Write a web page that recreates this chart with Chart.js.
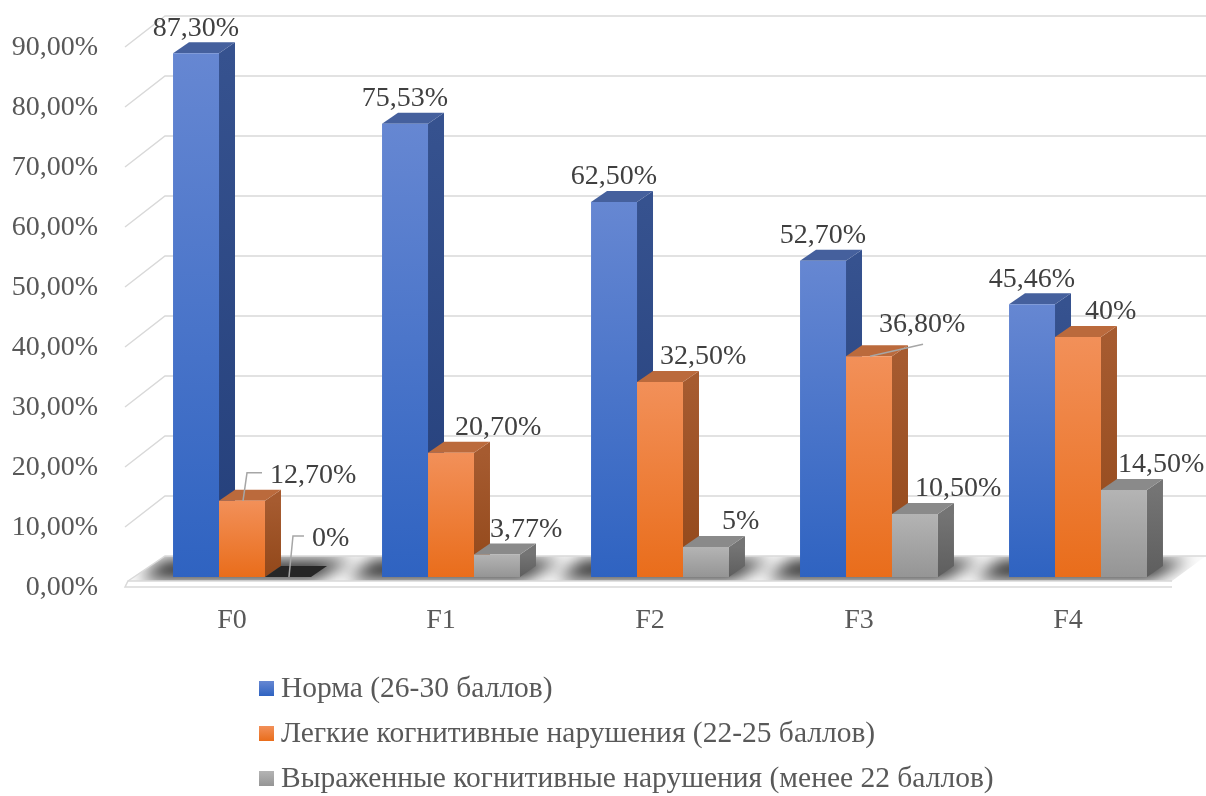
<!DOCTYPE html>
<html lang="ru">
  <head>
    <meta charset="UTF-8" />
    <title>Когнитивные нарушения по стадиям фиброза</title>
    <script src="https://cdn.jsdelivr.net/npm/chart.js"></script>
    <style>
      body {
        margin: 0;
        padding: 0;
        background: #fff;
      }
      #chart {
        display: block;
      }
    </style>
  </head>
  <body>
    <canvas id="chart" width="1206" height="796"></canvas>
    <script>
      // stages
      const categories = ["F0", "F1", "F2", "F3", "F4"];
      // share of patients, %
      const normaValues = [87.3, 75.53, 62.5, 52.7, 45.46];
      const mildValues = [12.7, 20.7, 32.5, 36.8, 40];
      const severeValues = [0, 3.77, 5, 10.5, 14.5];
      const seriesNames = [
        "Норма (26-30 баллов)",
        "Легкие когнитивные нарушения (22-25 баллов)",
        "Выраженные когнитивные нарушения (менее 22 баллов)",
      ];
      const yTicks = [0, 10, 20, 30, 40, 50, 60, 70, 80, 90];

      const FONT = '28px "Liberation Serif", "Times New Roman", serif';
      const LEGEND_FONT = '29.5px "Liberation Serif", "Times New Roman", serif';
      const DX = 16; // bar depth, px
      const DY = 11;

      // colours per series: front top/bottom, side top/bottom, top face
      const palette = [
        { f: ["#6687d2", "#2f63c1"], s: ["#36528f", "#243f7a"], t: "#45609d" },
        { f: ["#f29059", "#e96d1b"], s: ["#a65b30", "#92481a"], t: "#bb6a3c" },
        { f: ["#b4b4b4", "#959595"], s: ["#747474", "#5e5e5e"], t: "#8a8a8a" },
      ];

      // label nudges (dx, dy) so the labels don't sit on each other
      const labelShift = [
        [[0, 0], [0, 0], [0, 0], [0, 0], [0, 0]],
        [[26, 0], [2, 0], [-2, 0], [8, -7], [5, 0]],
        [[22, -13], [-9, 0], [14, 0], [-2, 0], [-8, 0]],
      ];

      function fmtValue(v) {
        if (Number.isInteger(v)) return v + "%";
        return v.toFixed(2).replace(".", ",") + "%";
      }
      function fmtTick(v) {
        return v.toFixed(2).replace(".", ",") + "%";
      }

      function frontFill(i) {
        return function (ctx) {
          const chart = ctx.chart;
          if (!chart.chartArea || ctx.raw === undefined) return palette[i].f[1];
          const y = chart.scales.y;
          const top = y.getPixelForValue(ctx.raw);
          const base = y.getPixelForValue(0);
          if (base - top < 1) return palette[i].f[1];
          const g = chart.ctx.createLinearGradient(0, top, 0, base);
          g.addColorStop(0, palette[i].f[0]);
          g.addColorStop(1, palette[i].f[1]);
          return g;
        };
      }

      function poly(ctx, pts) {
        ctx.beginPath();
        ctx.moveTo(pts[0][0], pts[0][1]);
        for (let k = 1; k < pts.length; k++) ctx.lineTo(pts[k][0], pts[k][1]);
        ctx.closePath();
      }

      function line(ctx, pts) {
        ctx.beginPath();
        ctx.moveTo(pts[0][0], pts[0][1]);
        for (let k = 1; k < pts.length; k++) ctx.lineTo(pts[k][0], pts[k][1]);
        ctx.stroke();
      }

      // floor, back wall grid, shadows and the side/top faces of the bars
      const scenePlugin = {
        id: "scene",
        beforeDatasetsDraw(chart) {
          const ctx = chart.ctx;
          const y = chart.scales.y;
          const base = y.getPixelForValue(0);
          const right = 1206;

          ctx.save();
          // wall grid
          ctx.strokeStyle = "#d9d9d9";
          ctx.lineWidth = 1.5;
          yTicks.forEach((v) => {
            if (v === 0) return;
            const py = y.getPixelForValue(v);
            line(ctx, [
              [125, py + 10],
              [165, py - 21],
              [right, py - 21],
            ]);
          });

          // floor slab
          const floorTop = [
            [128, base + 4],
            [1172, base + 4],
            [right, base - 21],
            [165, base - 21],
          ];
          ctx.fillStyle = "#fbfbfb";
          poly(ctx, floorTop);
          ctx.fill();

          // soft shadows under each group
          ctx.save();
          poly(ctx, floorTop);
          ctx.clip();
          const metas = [0, 1, 2].map((i) => chart.getDatasetMeta(i));
          categories.forEach((c, j) => {
            const first = metas[0].data[j];
            const last = metas[2].data[j];
            const x0 = first.x - first.width / 2;
            const x1 = last.x + last.width / 2;
            ctx.filter = "blur(8px)";
            ctx.fillStyle = "rgba(0,0,0,0.85)";
            poly(ctx, [
              [x0 - 34, base + 2],
              [x1 + 4, base + 2],
              [x1 + DX + 26, base - DY - 6],
              [x0 - 8, base - DY - 6],
            ]);
            ctx.fill();
          });
          ctx.filter = "none";
          ctx.restore();

          ctx.fillStyle = "#ffffff";
          poly(ctx, [
            [125, base + 10],
            [1172, base + 10],
            [1172, base + 4],
            [128, base + 4],
          ]);
          ctx.fill();
          line(ctx, [
            [1172, base + 4],
            [128, base + 4],
            [125, base + 10],
            [1172, base + 10],
          ]);
          line(ctx, [
            [128, base + 4],
            [165, base - 21],
            [right, base - 21],
          ]);

          // side and top faces, left to right so the neighbours overlap correctly
          categories.forEach((c, j) => {
            metas.forEach((meta, i) => {
              const bar = meta.data[j];
              const l = bar.x - bar.width / 2;
              const r = bar.x + bar.width / 2;
              const t = bar.y;
              const b = bar.base;
              const p = palette[i];
              if (b - t > 0.5) {
                const g = ctx.createLinearGradient(0, t, 0, b);
                g.addColorStop(0, p.s[0]);
                g.addColorStop(1, p.s[1]);
                ctx.fillStyle = g;
                poly(ctx, [
                  [r, t],
                  [r + DX, t - DY],
                  [r + DX, b - DY],
                  [r, b],
                ]);
                ctx.fill();
                ctx.fillStyle = p.t;
              } else {
                ctx.fillStyle = "#262626";
              }
              poly(ctx, [
                [l, t],
                [l + DX, t - DY],
                [r + DX, t - DY],
                [r, t],
              ]);
              ctx.fill();
            });
          });
          ctx.restore();
        },

        afterDraw(chart) {
          const ctx = chart.ctx;
          const y = chart.scales.y;
          const x = chart.scales.x;
          ctx.save();
          ctx.font = FONT;
          ctx.textBaseline = "middle";

          // value axis labels on the front edge of the floor
          ctx.fillStyle = "#595959";
          ctx.textAlign = "right";
          yTicks.forEach((v) => {
            ctx.fillText(fmtTick(v), 98, y.getPixelForValue(v) + 11);
          });

          // stage labels
          ctx.textAlign = "center";
          chart.data.labels.forEach((lab, j) => {
            ctx.fillText(lab, x.getPixelForValue(j) - 10, 621);
          });

          // data labels
          ctx.fillStyle = "#404040";
          ctx.strokeStyle = "#a6a6a6";
          ctx.lineWidth = 1.5;
          chart.data.datasets.forEach((ds, i) => {
            const meta = chart.getDatasetMeta(i);
            ds.data.forEach((v, j) => {
              const bar = meta.data[j];
              const txt = fmtValue(v);
              const [sx, sy] = labelShift[i][j];
              const ly = bar.y - 26 + sy;
              let lx;
              if (i === 0) {
                ctx.textAlign = "center";
                lx = bar.x + sx;
              } else {
                ctx.textAlign = "left";
                lx = bar.x + 2 + sx;
              }
              ctx.fillText(txt, lx, ly + 1);

              // leader lines for the labels moved away from their bar
              if ((i === 1 && j === 0) || (i === 2 && j === 0)) {
                line(ctx, [
                  [bar.x + 1, bar.y],
                  [bar.x + 5, ly - 2],
                  [lx - 8, ly - 2],
                ]);
              } else if (i === 1 && j === 3) {
                line(ctx, [
                  [bar.x + 1, bar.y],
                  [lx + 44, ly + 21],
                ]);
              }
            });
          });

          // legend
          ctx.textAlign = "left";
          ctx.font = LEGEND_FONT;
          chart.data.datasets.forEach((ds, i) => {
            const cy = 688 + i * 45;
            const g = ctx.createLinearGradient(0, cy - 7, 0, cy + 8);
            g.addColorStop(0, palette[i].f[0]);
            g.addColorStop(1, palette[i].f[1]);
            ctx.fillStyle = g;
            ctx.fillRect(259, cy - 7, 15, 15);
            ctx.fillStyle = "#595959";
            ctx.fillText(ds.label, 281, cy + 1);
          });
          ctx.restore();
        },
      };

      const seriesData = [normaValues, mildValues, severeValues];

      new Chart(document.getElementById("chart"), {
        type: "bar",
        data: {
          labels: categories,
          datasets: seriesData.map((vals, i) => ({
            label: seriesNames[i],
            data: vals,
            backgroundColor: frontFill(i),
            borderWidth: 0,
            categoryPercentage: 0.66,
            barPercentage: 1.0,
          })),
        },
        options: {
          responsive: false,
          animation: false,
          devicePixelRatio: 1,
          layout: {
            padding: { left: 137.5, right: 23.5, top: 37, bottom: 219 },
          },
          scales: {
            x: { display: false },
            y: { display: false, min: 0, max: 90 },
          },
          plugins: {
            legend: { display: false },
            tooltip: { enabled: false },
          },
        },
        plugins: [scenePlugin],
      });
    </script>
  </body>
</html>
